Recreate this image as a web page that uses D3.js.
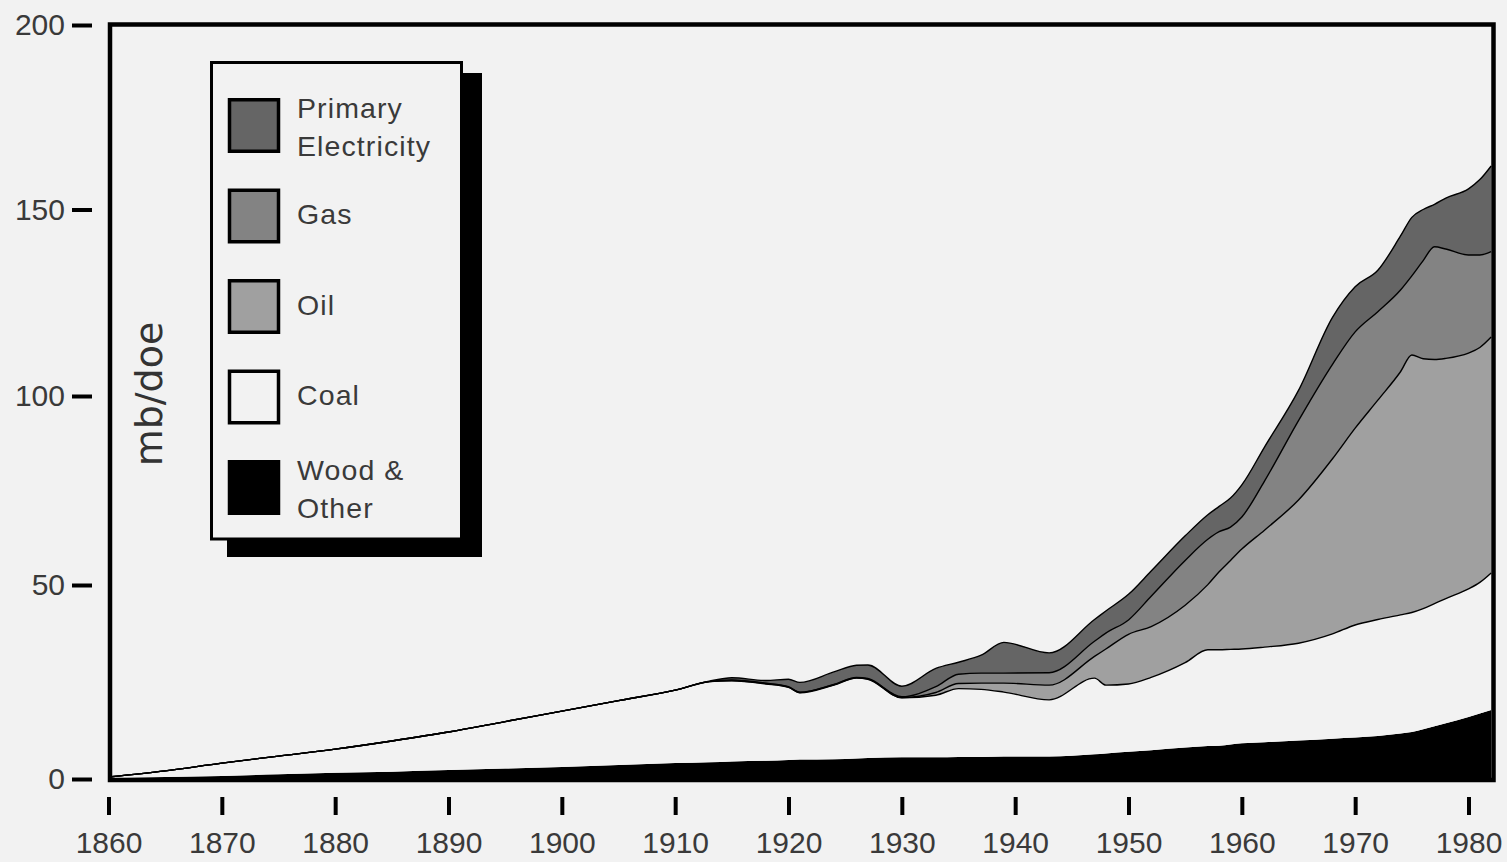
<!DOCTYPE html>
<html>
<head>
<meta charset="utf-8">
<script src="https://cdn.jsdelivr.net/npm/d3@7"></script>
<style>
  html, body { margin: 0; padding: 0; background: #f2f2f2; }
  svg { display: block; }
</style>
</head>
<body>
<svg id="chart" width="1507" height="862"></svg>
<script>
// World energy consumption by source, million barrels per day of oil equivalent
const years = [1860, 1865, 1870, 1875, 1880, 1885, 1890, 1895, 1900, 1905, 1910, 1913,
  1915, 1918, 1920, 1921, 1924, 1926, 1927, 1930, 1933, 1935, 1937, 1939, 1943,
  1947, 1948, 1950, 1952, 1955, 1957, 1958, 1959, 1960, 1962, 1965, 1968, 1970,
  1972, 1974, 1975, 1976, 1977, 1978, 1980, 1981, 1982];

const woodOther = [0.2, 0.5, 0.8, 1.2, 1.6, 1.9, 2.3, 2.7, 3.1, 3.6, 4.1, 4.3,
  4.5, 4.7, 4.9, 5.0, 5.1, 5.3, 5.4, 5.6, 5.6, 5.7, 5.7, 5.8, 5.8,
  6.4, 6.6, 7.0, 7.4, 8.1, 8.5, 8.6, 8.9, 9.2, 9.5, 9.9, 10.4, 10.7,
  11.1, 11.7, 12.1, 12.8, 13.6, 14.4, 16.0, 16.9, 17.8];

const coal = [0.3, 1.6, 3.3, 4.7, 6.1, 7.9, 9.8, 12.1, 14.4, 16.6, 18.8, 20.8,
  20.8, 19.8, 18.7, 17.2, 19.1, 20.7, 20.3, 15.3, 16.0, 17.6, 17.4, 16.6, 14.6,
  19.6, 17.6, 17.5, 18.8, 21.9, 24.8, 24.7, 24.5, 24.3, 24.5, 25.1, 27.0, 29.0,
  30.0, 30.6, 30.8, 31.1, 31.6, 32.1, 33.0, 33.8, 35.4];

const oil = [0, 0, 0, 0, 0, 0, 0, 0, 0, 0, 0, 0,
  0.1, 0.1, 0.1, 0.1, 0.1, 0.1, 0.1, 0.1, 0.7, 1.3, 1.6, 2.3, 3.8,
  5.6, 9.3, 12.8, 13.1, 14.8, 16.8, 20.2, 23.1, 26.0, 30.5, 37.5, 46.0, 51.8,
  57.8, 64.2, 68.1, 66.1, 64.6, 63.6, 62.5, 62.3, 62.6];

const gas = [0, 0, 0, 0, 0, 0, 0, 0, 0, 0, 0, 0,
  0.1, 0.1, 0.1, 0.1, 0.1, 0.1, 0.1, 0.2, 1.5, 2.4, 2.6, 2.6, 3.2,
  3.9, 4.1, 3.7, 7.8, 11.7, 12.0, 10.6, 8.8, 8.5, 13.0, 21.0, 25.1, 25.7,
  23.7, 21.9, 21.2, 26.3, 30.2, 29.3, 26.3, 24.8, 22.9];

const primaryElectricity = [0, 0, 0, 0, 0, 0, 0, 0, 0, 0, 0, 0.1,
  0.6, 0.7, 1.9, 2.5, 3.2, 3.1, 3.5, 2.7, 4.7, 3.1, 4.6, 7.9, 5.1,
  5.6, 5.7, 6.6, 6.6, 6.5, 6.5, 6.7, 7.7, 8.5, 9.0, 8.0, 12.6, 12.1,
  11.1, 14.5, 15.7, 13.7, 11.4, 13.7, 17.8, 20.3, 23.1];

const yTicks = [0, 50, 100, 150, 200];
const xTicks = [1860, 1870, 1880, 1890, 1900, 1910, 1920, 1930, 1940, 1950, 1960, 1970, 1980];

const seriesKeys = ["wood", "coal", "oil", "gas", "primary"];
const legendLabels = {
  primary: ["Primary", "Electricity"],
  gas: ["Gas"],
  oil: ["Oil"],
  coal: ["Coal"],
  wood: ["Wood &", "Other"]
};
const legendOrder = ["primary", "gas", "oil", "coal", "wood"];

const fills = {
  wood: "#000000",
  coal: "#f2f2f2",
  oil: "#a0a0a0",
  gas: "#838383",
  primary: "#656565"
};

const FONT = "'Liberation Sans', Arial, sans-serif";
const TEXT_COLOR = "#3a3a3a";

const svg = d3.select("#chart");

const x = d3.scaleLinear().domain([1860, 1980]).range([108.5, 1468.5]);
// the printed value axis is not perfectly even, so each tick gets its own position
const y = d3.scaleLinear().domain(yTicks).range([779, 585, 396, 209.5, 25]);

const table = years.map((yr, i) => ({
  year: yr,
  wood: woodOther[i],
  coal: coal[i],
  oil: oil[i],
  gas: gas[i],
  primary: primaryElectricity[i]
}));

const layers = d3.stack().keys(seriesKeys)(table);

const area = d3.area()
  .x(d => x(d.data.year))
  .y0(d => y(d[0]))
  .y1(d => y(d[1]))
  .curve(d3.curveMonotoneX);

const topLine = d3.line()
  .x(d => x(d.data.year))
  .y(d => y(d[1]))
  .curve(d3.curveMonotoneX);

// stacked areas
svg.append("g")
  .selectAll("path")
  .data(layers)
  .join("path")
  .attr("d", area)
  .attr("fill", d => fills[d.key]);

// outline along the top of each layer
svg.append("g")
  .selectAll("path")
  .data(layers.filter(l => l.key !== "wood"))
  .join("path")
  .attr("d", topLine)
  .attr("fill", "none")
  .attr("stroke", "#000")
  .attr("stroke-width", 1.4)
  .attr("stroke-linejoin", "round");

// plot frame
svg.append("rect")
  .attr("x", 110)
  .attr("y", 24.5)
  .attr("width", 1383.5)
  .attr("height", 755.5)
  .attr("fill", "none")
  .attr("stroke", "#000")
  .attr("stroke-width", 4.5);

// y axis (detached ticks left of the frame)
const yAxis = svg.append("g")
  .attr("transform", "translate(92,0)")
  .call(d3.axisLeft(y).tickValues(yTicks).tickSize(20).tickPadding(7));
yAxis.select(".domain").remove();
yAxis.selectAll(".tick line").attr("stroke", "#000").attr("stroke-width", 4);
yAxis.selectAll(".tick text")
  .style("font-family", FONT)
  .style("font-size", "30px")
  .style("fill", TEXT_COLOR);

// x axis (detached ticks below the frame)
const xAxis = svg.append("g")
  .attr("transform", "translate(0,797)")
  .call(d3.axisBottom(x).tickValues(xTicks).tickSize(18).tickPadding(17).tickFormat(d3.format("d")));
xAxis.select(".domain").remove();
xAxis.selectAll(".tick line").attr("stroke", "#000").attr("stroke-width", 4);
xAxis.selectAll(".tick text")
  .style("font-family", FONT)
  .style("font-size", "30px")
  .style("fill", TEXT_COLOR);

// y axis title
svg.append("text")
  .attr("transform", "translate(162,394) rotate(-90)")
  .attr("text-anchor", "middle")
  .style("font-family", "'DejaVu Sans', sans-serif")
  .style("font-size", "38px")
  .style("fill", "#333")
  .text("mb/doe");

// legend with drop shadow
const legend = svg.append("g");
legend.append("rect")
  .attr("x", 227).attr("y", 73)
  .attr("width", 255).attr("height", 484)
  .attr("fill", "#000");
legend.append("rect")
  .attr("x", 211.5).attr("y", 62.5)
  .attr("width", 250).attr("height", 476.5)
  .attr("fill", "#f2f2f2")
  .attr("stroke", "#000")
  .attr("stroke-width", 3);

const items = legend.selectAll("g.item")
  .data(legendOrder)
  .join("g")
  .attr("class", "item")
  .attr("transform", (d, i) => `translate(0,${98 + i * 90.5})`);

items.append("rect")
  .attr("x", 229.5).attr("y", 1.75)
  .attr("width", 49).attr("height", 51.5)
  .attr("fill", d => fills[d])
  .attr("stroke", "#000")
  .attr("stroke-width", 3.5);

items.each(function (key) {
  const lines = legendLabels[key];
  const g = d3.select(this);
  const base = lines.length === 1 ? [35.5] : [19.5, 57.5];
  lines.forEach((t, j) => {
    g.append("text")
      .attr("x", 297)
      .attr("y", base[j])
      .style("font-family", FONT)
      .style("font-size", "28.5px")
      .style("letter-spacing", "1.1px")
      .style("fill", TEXT_COLOR)
      .text(t);
  });
});
</script>
</body>
</html>
